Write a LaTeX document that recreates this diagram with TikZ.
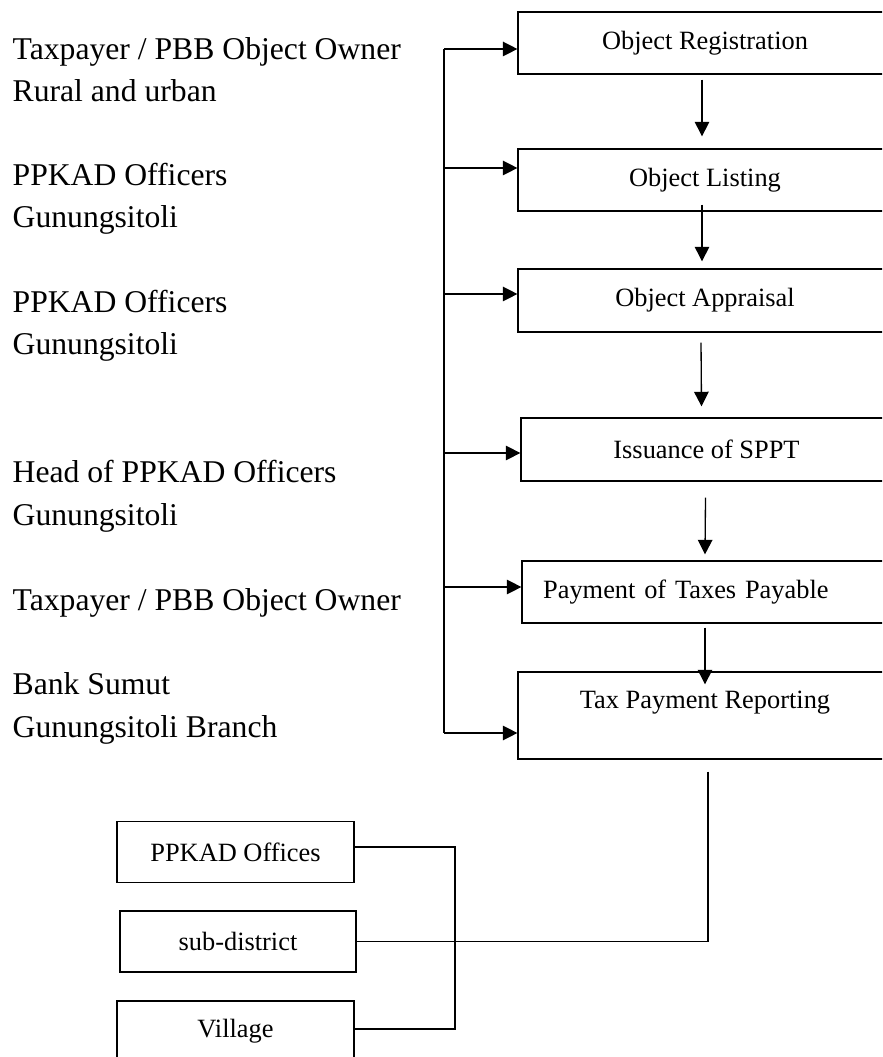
\documentclass[tikz,border=0pt]{standalone}
\usepackage{fontspec}
\setmainfont{Liberation Serif}
\usepackage{tikz}
\usetikzlibrary{positioning,arrows.meta,calc}

\tikzset{
	stepbox/.style={draw,line width=0.5pt,minimum width=141.7pt,minimum height=23.5pt,inner sep=2pt},
	unitbox/.style={draw,line width=0.5pt,minimum width=89.8pt,minimum height=23pt,inner sep=2pt},
	actor/.style={anchor=base west,align=left,inner sep=0pt,font=\fontsize{12}{16.1}\selectfont}
}

\begin{document}
\begin{tikzpicture}[x=0.379pt,y=-0.379pt,>={Triangle[length=5.5pt,width=5.5pt]},line width=0.5pt]
		
		\useasboundingbox (0,0) rectangle (882,1057);
		\clip (0,0) rectangle (882,1057);
		
		% Actors (placed at the baseline of their last line)
		\node[actor] (who1) at (12,102){Taxpayer / PBB Object Owner\\Rural and urban};
		\node[actor] (who2) at (12,228){PPKAD Officers\\Gunungsitoli};
		\node[actor] (who3) at (12,355){PPKAD Officers\\Gunungsitoli};
		\node[actor] (who4) at (12,525){Head of PPKAD Officers\\Gunungsitoli};
		\node[actor] (who5) at (12,610){Taxpayer / PBB Object Owner};
		\node[actor] (who6) at (12,737){Bank Sumut\\Gunungsitoli Branch};
		
		% Steps
		\node[stepbox] (reg) at (705,43){Object Registration};
		\node[stepbox] (list) at (705,180){Object Listing};
		\node[stepbox,minimum height=23.9pt] (app) at (705,300.5){Object Appraisal};
		\node[stepbox,minimum width=140.6pt,minimum height=23.9pt] (sppt) at (706.5,449.5){Issuance of SPPT};
		\node[stepbox,minimum width=140.2pt,text width=124.2pt,inner xsep=8pt,align=left] (pay) at (707,592){Payment of Taxes Payable};
		\node[stepbox,minimum height=33pt,align=center] (rep) at (705,715.5){Tax Payment Reporting\\~};
		
		% Flow between steps
		\draw[->] ($(reg.south)+(-3,5)$)--($(list.north)+(-3,-12)$);
		\draw[->] ($(list.south)+(-3,-7)$)--($(app.north)+(-3,-7)$);
		\draw[->] ($(app.south)+(-4,10)$)--($(sppt.north)+(-5,-11)$);
		\draw[->] ($(sppt.south)+(-1,16)$)--($(pay.north)+(-2,-6)$);
		\draw[->] ($(pay.south)+(-2,4)$)--($(rep.north)+(0,13)$);
		
		% Spine from actors
		\coordinate (s1) at (444,49);
		\coordinate (s2) at (444,168);
		\coordinate (s3) at (444,294);
		\coordinate (s4) at (444,453);
		\coordinate (s5) at (444,587);
		\coordinate (s6) at (444,733);
		
		\draw (s1)--(s6);
		\draw[->] (s1)--(s1 -| reg.west);
		\draw[->] (s2)--(s2 -| list.west);
		\draw[->] (s3)--(s3 -| app.west);
		\draw[->] (s4)--(s4 -| sppt.west);
		\draw[->] (s5)--(s5 -| pay.west);
		\draw[->] (s6)--(s6 -| rep.west);
		
		% Offices
		\node[unitbox] (off) at (235.5,852){PPKAD Offices};
		\node[unitbox,minimum width=89.4pt,minimum height=23.1pt] (sub) at (238,941.5){sub-district};
		\node[unitbox,minimum height=23.1pt] (vil) at (235.5,1031.5){Village};
		
		% Report goes down to the offices
		\coordinate (r1) at ($(rep.south)+(3,12)$);
		\draw (r1) |- (sub.east);
		
		\coordinate (b1) at (455,847);
		\coordinate (b2) at (455,1029);
		\draw (b1 -| off.east)--(b1)--(b2)--(b2 -| vil.east);
		
	\end{tikzpicture}
\end{document}
